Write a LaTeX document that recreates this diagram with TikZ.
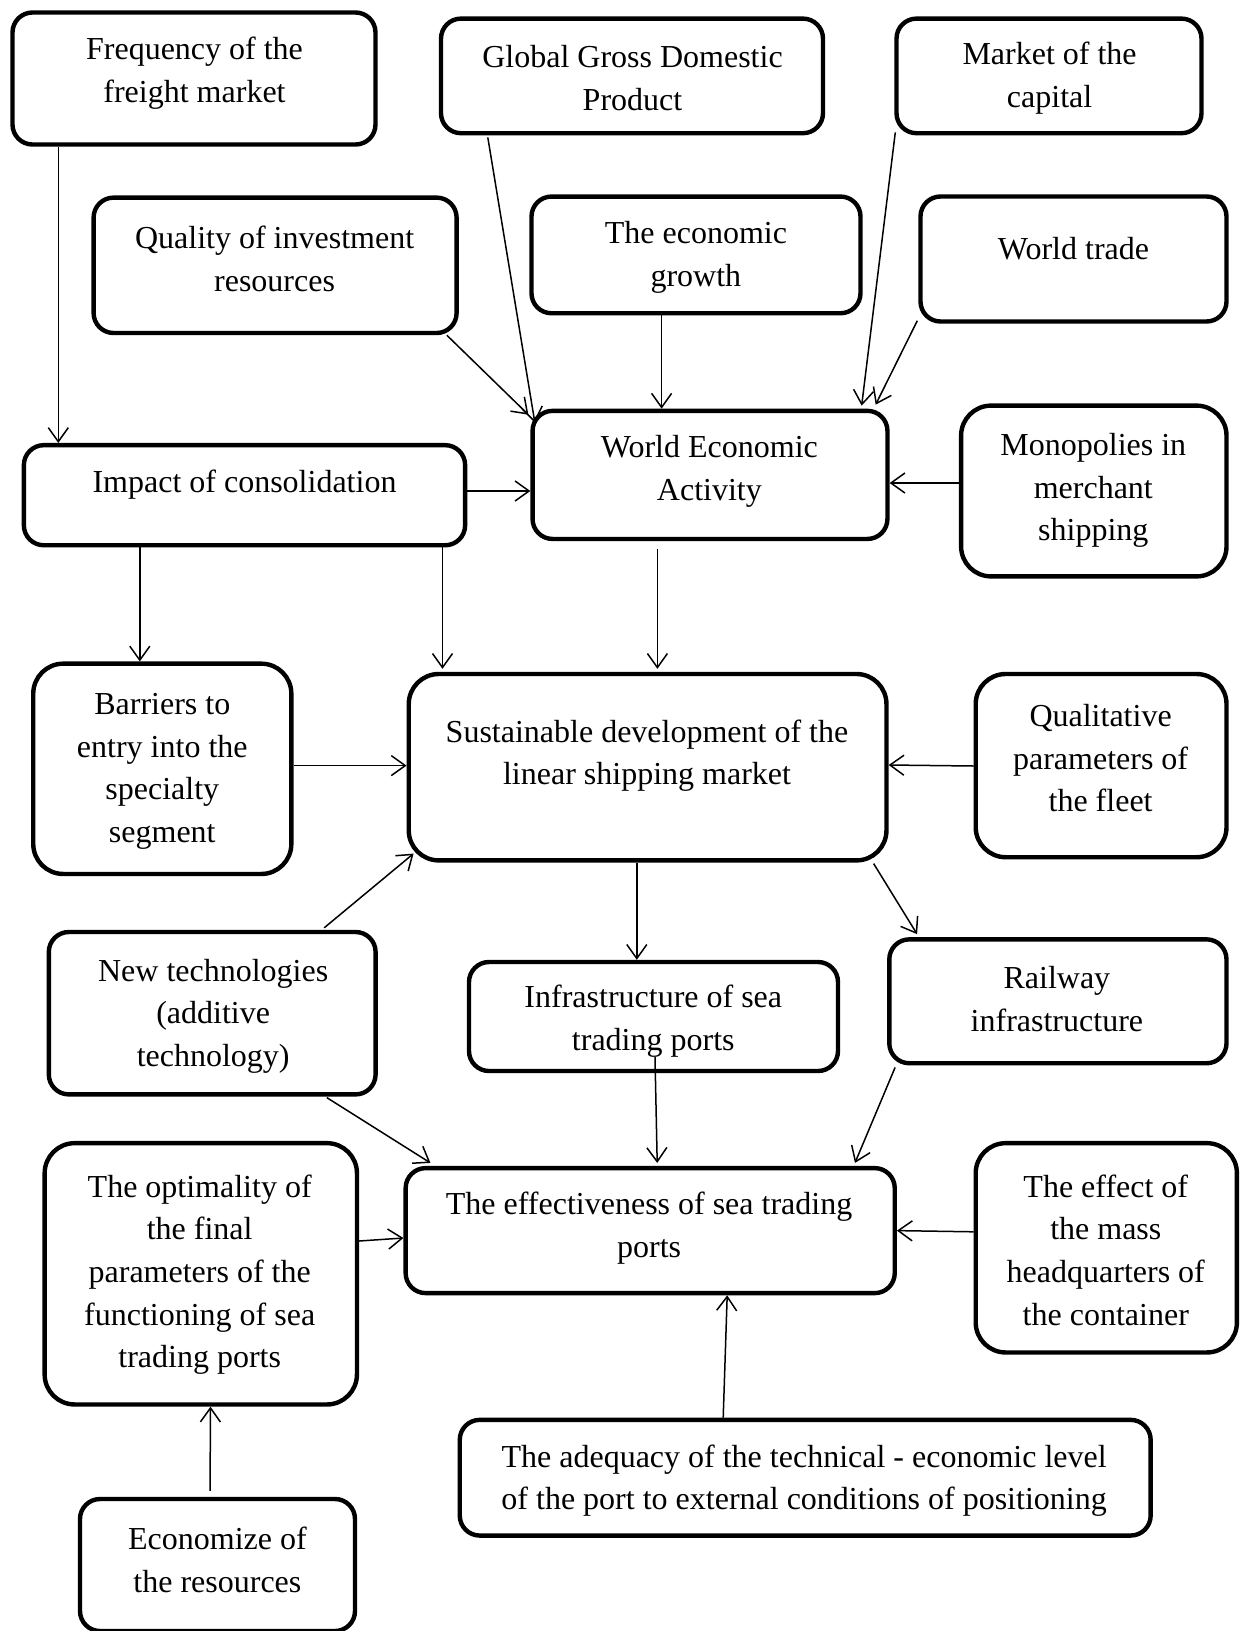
\documentclass[tikz,border=0pt]{standalone}
\usepackage{fontspec}
\setmainfont{Liberation Serif}
\usetikzlibrary{arrows.meta,calc}
\begin{document}
\begin{tikzpicture}[x=1pt,y=-1pt,
  box/.style={draw, line width=4.4pt, rounded corners=20pt, inner sep=0pt},
  bigbox/.style={box, rounded corners=30pt},
  txt/.style={align=center, inner sep=0pt, yshift=-3pt, font=\fontsize{32}{42.7}\selectfont},
  arr/.style={line width=1.5pt, -{Straight Barb[length=14pt,width=20pt,line width=1.5pt]}}]
\useasboundingbox (0,0) rectangle (1241,1631);

% boxes
\node[box, minimum width=363pt, minimum height=132pt] (freq) at (194,78.5) {};
\node[box, minimum width=382pt, minimum height=114.6pt] (gdp) at (632,75.9) {};
\node[box, minimum width=305pt, minimum height=114.6pt] (market) at (1049,75.9) {};
\node[box, minimum width=363pt, minimum height=135.4pt] (quality) at (275.1,265.3) {};
\node[box, minimum width=329pt, minimum height=116.7pt] (growth) at (696,254.9) {};
\node[box, minimum width=306pt, minimum height=125pt] (trade) at (1073.5,259) {};
\node[box, minimum width=441.3pt, minimum height=100.1pt] (impact) at (244.5,495.2) {};
\node[box, minimum width=354.9pt, minimum height=128.1pt] (wea) at (710,474.9) {};
\node[bigbox, minimum width=265.4pt, minimum height=170.8pt] (mono) at (1093.8,491) {};
\node[bigbox, minimum width=258.1pt, minimum height=210.3pt] (barriers) at (162.3,768.8) {};
\node[bigbox, minimum width=477.7pt, minimum height=186.4pt] (sust) at (647.6,767.2) {};
\node[bigbox, minimum width=250.8pt, minimum height=183.2pt] (qual) at (1101.1,765.6) {};
\node[box, minimum width=326.8pt, minimum height=162.4pt] (newtech) at (212.2,1013.2) {};
\node[box, minimum width=369pt, minimum height=109pt] (infra) at (653.5,1016.5) {};
\node[box, minimum width=337.2pt, minimum height=123.9pt] (rail) at (1057.9,1001.3) {};
\node[bigbox, minimum width=312.3pt, minimum height=261.3pt] (optim) at (200.8,1273.8) {};
\node[box, minimum width=489.1pt, minimum height=125pt] (eff) at (650.2,1230.6) {};
\node[bigbox, minimum width=261.2pt, minimum height=209.3pt] (mass) at (1106.3,1247.8) {};
\node[box, minimum width=690.9pt, minimum height=115.7pt] (adeq) at (805.2,1477.7) {};
\node[box, minimum width=275pt, minimum height=132pt] (econ) at (217.5,1565) {};

% texts
\node[txt] (tfreq) at (194.5,70.2) {Frequency of the\\freight market};
\node[txt] (tgdp) at (632.5,75.4) {Global Gross Domestic\\Product};
\node[txt] (tmarket) at (1049.6,75.4) {Market of the\\capital};
\node[txt] (tquality) at (274.6,255.9) {Quality of investment\\resources};
\node[txt] (tgrowth) at (695.9,254.3) {The economic\\growth};
\node[txt] (ttrade) at (1073.5,245.5) {World trade};
\node[txt] (timpact) at (244.5,481.6) {Impact of consolidation};
\node[txt] (twea) at (709.4,468.1) {World Economic\\Activity};
\node[txt] (tmono) at (1093.3,487.4) {Monopolies in\\merchant\\shipping};
\node[txt] (tbarriers) at (162.3,768.2) {Barriers to\\entry into the\\specialty\\segment};
\node[txt] (tsust) at (647.0,752.6) {Sustainable development of the\\linear shipping market};
\node[txt] (tqual) at (1100.6,755.2) {Qualitative\\parameters of\\the fleet};
\node[txt] (tnewtech) at (213.2,1013.2) {New technologies\\(additive\\technology)};
\node[txt] (tinfra) at (653.3,1017.9) {Infrastructure of sea\\trading ports};
\node[txt] (trail) at (1056.9,996.0) {Railway\\infrastructure};
\node[txt] (toptim) at (199.7,1271.7) {The optimality of\\the final\\parameters of the\\functioning of sea\\trading ports};
\node[txt] (teff) at (649.1,1224.9) {The effectiveness of sea trading\\ports};
\node[txt] (tmass) at (1105.8,1247.2) {The effect of\\the mass\\headquarters of\\the container};
\node[txt] (tadeq) at (804.1,1477.6) {The adequacy of the technical - economic level\\of the port to external conditions of positioning};
\node[txt] (tecon) at (217.4,1557.2) {Economize of\\the resources};

% connectors
\draw[arr] (freq.south -| 58.3,0) -- (impact.north -| 58.3,0);
\draw[arr] ($(gdp.south west)+(49,2)$) -- ($(wea.north west)+(4.5,14)$);
\draw[arr] ($(quality.south east)+(-12,0)$) -- ($(wea.north west)+(-2,6)$);
\draw[arr] (growth.south -| 661.6,0) -- (wea.north -| 661.6,0);
\draw[arr] ($(market.south west)+(1,-3)$) -- ($(wea.north east)+(-28,-3)$);
\draw[arr] ($(trade.south west)+(-1,-3)$) -- ($(wea.north east)+(-14,-4)$);
\draw[arr] (impact.east |- 0,491) -- (wea.west |- 0,491);
\draw[arr] (mono.west |- 0,483) -- (wea.east |- 0,483);
\draw[arr] (impact.south -| 139.8,0) -- (barriers.north -| 139.8,0);
\draw[arr, shorten >=3pt] (impact.south -| 442.5,0) -- (sust.north -| 442.5,0);
\draw[arr, shorten <=8pt, shorten >=3pt] (wea.south -| 657.4,0) -- (sust.north -| 657.4,0);
\draw[arr] (barriers.east |- 0,765.6) -- (sust.west |- 0,765.6);
\draw[arr] (qual.west |- 0,766) -- (sust.east |- 0,765);
\draw[arr] ($(newtech.north east)+(-53.6,-2)$) -- ($(sust.south west)+(7,-9)$);
\draw[arr] (sust.south -| 636.8,0) -- (infra.north -| 636.8,0);
\draw[arr] ($(sust.south east)+(-15,1)$) -- ($(rail.north west)+(30,-3)$);
\draw[arr] ($(infra.south)+(1.5,-16)$) -- ($(eff.north)+(7,-3)$);
\draw[arr] ($(rail.south west)+(8,2)$) -- ($(eff.north east)+(-42,-3)$);
\draw[arr] ($(newtech.south east)+(-51,1)$) -- ($(eff.north west)+(27,-3)$);
\draw[arr] ($(optim.east)+(0,-32.8)$) -- ($(eff.west)+(0,7.4)$);
\draw[arr] ($(mass.west)+(0,-16)$) -- (eff.east);
\draw[arr] ($(adeq.north)+(-82,0)$) -- ($(eff.south)+(77,0)$);
\draw[arr, shorten <=6pt] (econ.north -| 210,0) -- (optim.south -| 210.5,0);
\end{tikzpicture}
\end{document}
